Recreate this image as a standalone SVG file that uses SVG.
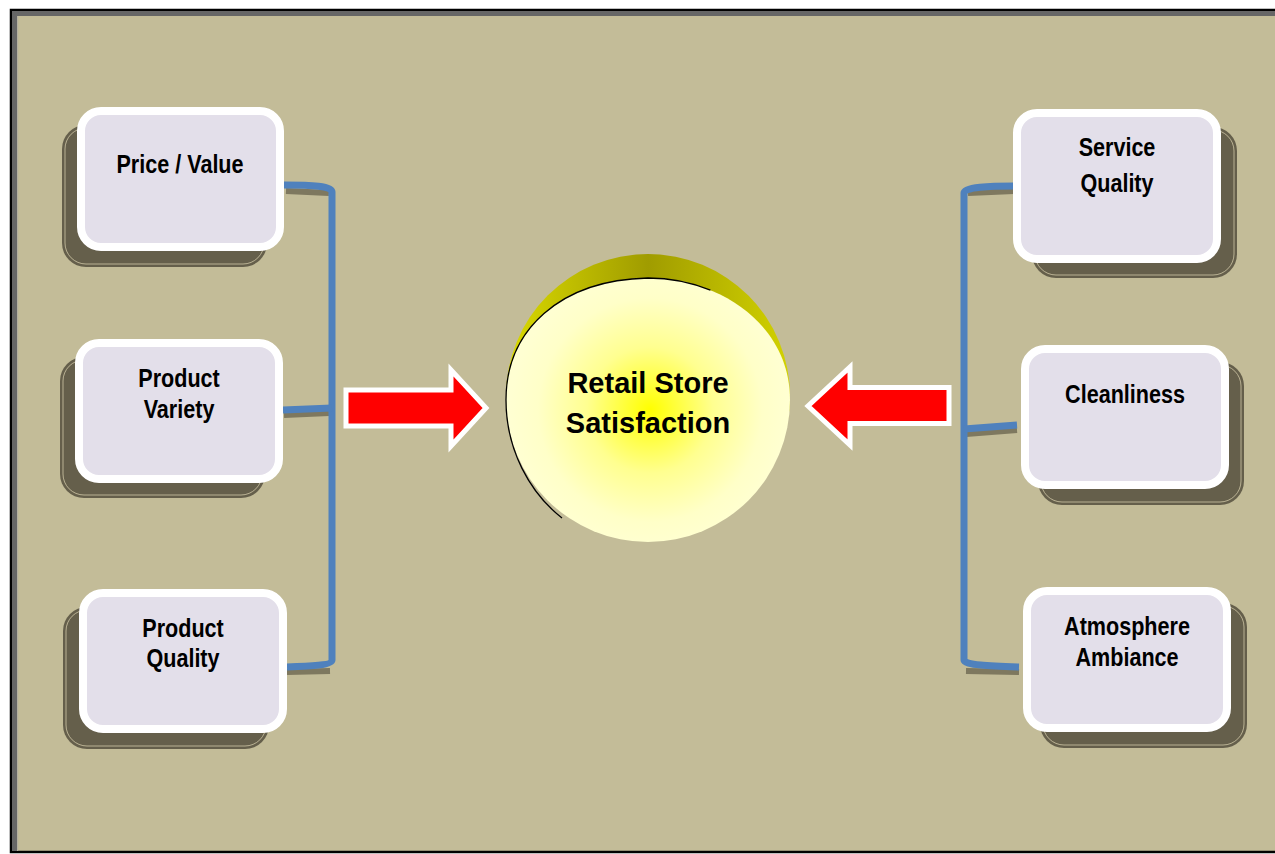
<svg xmlns="http://www.w3.org/2000/svg" width="1275" height="854" viewBox="0 0 1275 854">
<style>
.shadow{fill:#655F4B;}
.shline{fill:none;stroke:#CFC7A6;stroke-width:0.8;}
.box{fill:#E3DFEA;stroke:#FFFFFF;stroke-width:8;}
.lbl{font-family:"Liberation Sans",Arial,sans-serif;font-weight:bold;font-size:26px;fill:#000;text-anchor:middle;}
.ctr{font-family:"Liberation Sans",Arial,sans-serif;font-weight:bold;font-size:29px;fill:#000;text-anchor:middle;}
.conn{fill:none;stroke:#4F81BD;stroke-width:7;stroke-linejoin:round;}
.connsh{fill:none;stroke:#7E785F;stroke-width:6;}
.arrow{fill:#FF0000;stroke:#FFFFFF;stroke-width:5;stroke-linejoin:miter;}
</style>
<defs>
<linearGradient id="dome" x1="506" y1="0" x2="790" y2="0" gradientUnits="userSpaceOnUse">
<stop offset="0" stop-color="#DADA00"/>
<stop offset="0.5" stop-color="#A09C00"/>
<stop offset="1" stop-color="#D2D200"/>
</linearGradient>
<radialGradient id="face" cx="650" cy="410" r="140" gradientUnits="userSpaceOnUse">
<stop offset="0" stop-color="#FFFF00"/>
<stop offset="0.45" stop-color="#FFFF90"/>
<stop offset="0.8" stop-color="#FFFFC8"/>
<stop offset="1" stop-color="#FFFFD2"/>
</radialGradient>
</defs>

<g id="background">
<rect x="11" y="10" width="1270" height="842" fill="#C3BC98" stroke="#000" stroke-width="2.5"/>
<rect x="12" y="11" width="1270" height="5" fill="#666666"/>
<rect x="12" y="11" width="5" height="840" fill="#666666"/>
<rect x="17" y="16" width="1.2" height="835" fill="#B4B0A0"/>
</g>

<g id="connectors">
<path class="connsh" d="M286,191 L329,193"/>
<path class="connsh" d="M284,415 L329,413"/>
<path class="connsh" d="M287,672 L330,671"/>
<path class="connsh" d="M968,193 L1014,191"/>
<path class="connsh" d="M966,434 L1017,430"/>
<path class="connsh" d="M966,671 L1019,672"/>
<path class="conn" d="M284,185 C312,185 332,186 332,192 L332,660 C332,665 312,666 287,667"/>
<path class="conn" d="M283,410 L332,408"/>
<path class="conn" d="M1014,186 C990,186 964,187 964,193 L964,660 C964,665 990,666 1019,667"/>
<path class="conn" d="M964,429 L1017,425"/>
<polygon class="arrow" points="346,390 451,390 451,370 486,408 451,446 451,426 346,426"/>
<polygon class="arrow" points="949,387.5 850,387.5 850,367 808,406 850,445 850,423.5 949,423.5"/>
</g>

<g id="center">
<circle cx="648" cy="396" r="142" fill="url(#dome)"/>
<path d="M506,400 C506,330 560,280 648,278 C720,278 790,325 790,400 A142,142 0 0 1 506,400 Z" fill="url(#face)"/>
<path d="M562,518 C530,493 506,450 506,400 C506,330 560,280 648,278 C669.6,278 691,282.2 710.4,290.2" fill="none" stroke="#000" stroke-width="1.3"/>
<text class="ctr" x="648" y="393">Retail Store</text>
<text class="ctr" x="648" y="433">Satisfaction</text>
</g>

<g id="node-price">
<rect class="shadow" x="62" y="125" width="205" height="142" rx="24"/>
<rect class="shline" x="65" y="128" width="199" height="136" rx="21"/>
<rect class="box" x="81" y="111" width="199" height="136" rx="20"/>
<text class="lbl" transform="translate(180,173) scale(0.83,1)">Price / Value</text>
</g>

<g id="node-variety">
<rect class="shadow" x="60" y="357" width="205" height="141" rx="24"/>
<rect class="shline" x="63" y="360" width="199" height="135" rx="21"/>
<rect class="box" x="79" y="343" width="200" height="136" rx="20"/>
<text class="lbl" transform="translate(179,387) scale(0.83,1)"><tspan x="0" y="0">Product</tspan><tspan x="0" y="31">Variety</tspan></text>
</g>

<g id="node-quality">
<rect class="shadow" x="63" y="607" width="206" height="142" rx="24"/>
<rect class="shline" x="66" y="610" width="200" height="136" rx="21"/>
<rect class="box" x="83" y="593" width="200" height="136" rx="20"/>
<text class="lbl" transform="translate(183,637) scale(0.83,1)"><tspan x="0" y="0">Product</tspan><tspan x="0" y="30">Quality</tspan></text>
</g>

<g id="node-service">
<rect class="shadow" x="1032" y="127" width="205" height="151" rx="24"/>
<rect class="shline" x="1035" y="130" width="199" height="145" rx="21"/>
<rect class="box" x="1017" y="113" width="200" height="146" rx="20"/>
<text class="lbl" transform="translate(1117,156) scale(0.83,1)"><tspan x="0" y="0">Service</tspan><tspan x="0" y="36">Quality</tspan></text>
</g>

<g id="node-clean">
<rect class="shadow" x="1038" y="362" width="206" height="143" rx="24"/>
<rect class="shline" x="1041" y="365" width="200" height="137" rx="21"/>
<rect class="box" x="1025" y="349" width="200" height="136" rx="20"/>
<text class="lbl" transform="translate(1125,403) scale(0.83,1)">Cleanliness</text>
</g>

<g id="node-atmos">
<rect class="shadow" x="1040" y="603" width="207" height="145" rx="24"/>
<rect class="shline" x="1043" y="606" width="201" height="139" rx="21"/>
<rect class="box" x="1027" y="591" width="200" height="137" rx="20"/>
<text class="lbl" transform="translate(1127,635) scale(0.83,1)"><tspan x="0" y="0">Atmosphere</tspan><tspan x="0" y="31">Ambiance</tspan></text>
</g>
</svg>
